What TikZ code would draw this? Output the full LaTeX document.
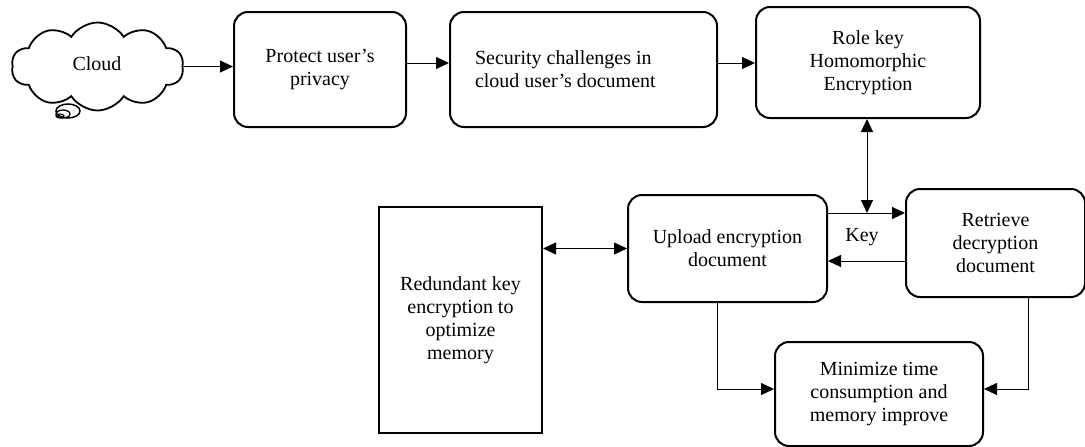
\documentclass[tikz,border=0pt]{standalone}
\usepackage{fontspec}
\setmainfont{Liberation Serif}
\usetikzlibrary{arrows.meta,shapes.symbols,positioning}
\tikzset{
  rbox/.style={draw, line width=2pt, rounded corners=14pt, align=center, inner sep=0pt},
  sbox/.style={draw, line width=2pt, align=center, inner sep=0pt},
  arr/.style={line width=0.9pt, -{Triangle[length=13pt,width=12pt]}},
  dbl/.style={line width=0.9pt, {Triangle[length=13pt,width=12pt]}-{Triangle[length=13pt,width=12pt]}},
}
\begin{document}
\begin{tikzpicture}[x=1pt,y=-1pt, font=\fontsize{20}{23}\selectfont]
\useasboundingbox (0,0) rectangle (1085,447);
% cloud
\node[cloud, draw, line width=1.8pt, cloud puffs=10, cloud puff arc=115, aspect=2,
      minimum width=172pt, minimum height=88pt, inner sep=0pt] (cloud) at (97.5,66.5) {};
\node (cloudtxt) at (97,64) {Cloud};
\draw[line width=1.5pt] (68,111) ellipse [x radius=12, y radius=7];
\draw[line width=1.3pt] (63,114) ellipse [x radius=7, y radius=4];
\draw[line width=1.1pt] (60,116) ellipse [x radius=4, y radius=2];
% boxes
\node[rbox, minimum width=172pt, minimum height=115pt] (protect) at (320,69.5) {\raisebox{-3pt}{\parbox{160pt}{\centering Protect user’s\\ privacy}}};
\node[rbox, minimum width=267pt, minimum height=115pt] (security) at (583.5,69.5) {\raisebox{-3pt}{\parbox{217pt}{\raggedright Security challenges in\\ cloud user’s document}}};
\node[rbox, minimum width=224pt, minimum height=111pt] (role) at (868,62.5) {Role key\\ Homomorphic\\ Encryption};
\node[rbox, minimum width=199pt, minimum height=107pt] (upload) at (727.5,248.5) {Upload encryption\\ document};
\node[rbox, minimum width=179pt, minimum height=108pt] (retrieve) at (995.5,243) {Retrieve\\ decryption\\ document};
\node[sbox, minimum width=163pt, minimum height=226pt] (redundant) at (460.5,320) {Redundant key\\ encryption to\\ optimize\\ memory};
\node[rbox, minimum width=208pt, minimum height=104pt] (minimize) at (879,394) {\raisebox{2pt}{\parbox{200pt}{\centering Minimize time\\ consumption and\\ memory improve}}};
% connectors
\draw[arr] (cloud.east) -- (protect.west |- cloud.east);
\coordinate (p1) at ([yshift=6.5pt]protect.east);
\draw[arr] (p1) -- (security.west |- p1);
\coordinate (s1) at ([yshift=6.5pt]security.east);
\draw[arr] (s1) -- (role.west |- s1);
\coordinate (k1) at ([yshift=35.5pt]upload.east);
\coordinate (kj) at (k1 -| role.south);
\draw[arr] (k1) -- (retrieve.west |- k1);
\draw[dbl] ([xshift=-1pt]role.south) -- ([xshift=-1pt]kj);
\node (key) at (862,237) {Key};
\coordinate (k2) at ([yshift=-18pt]retrieve.west);
\draw[arr] (k2) -- (upload.east |- k2);
\draw[dbl] (redundant.east |- upload.west) -- (upload.west);
\draw[arr] ([xshift=-10.5pt]upload.south) |- ([yshift=5pt]minimize.west);
\draw[arr] ([xshift=32.5pt]retrieve.south) |- ([yshift=5pt]minimize.east);
\end{tikzpicture}
\end{document}
